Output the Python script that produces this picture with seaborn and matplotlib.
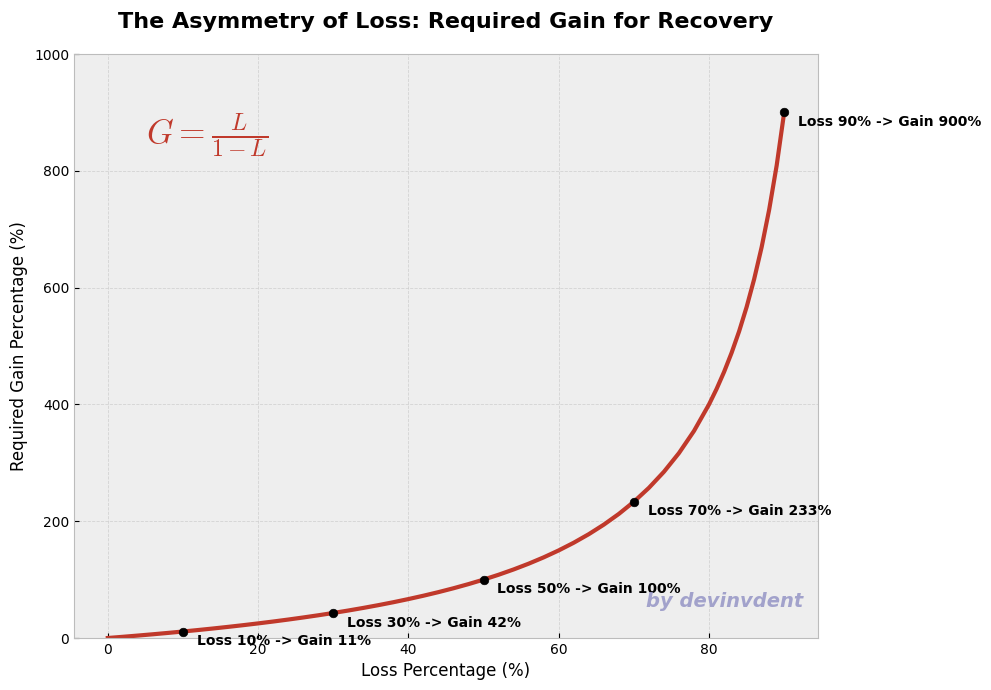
import matplotlib
matplotlib.use("Agg")
import matplotlib.pyplot as plt
import seaborn as sns
import pandas as pd

loss = [0, 2, 4, 6, 8, 10, 12, 14, 16, 18, 20, 22, 24, 26, 28, 30, 32, 34, 36, 38,
        40, 42, 44, 46, 48, 50, 52, 54, 56, 58, 60, 62, 64, 66, 68, 70, 72, 74, 76, 78,
        80, 81, 82, 83, 84, 85, 86, 87, 88, 89, 90]
gain = [0.00, 2.04, 4.17, 6.38, 8.70, 11.11, 13.64, 16.28, 19.05, 21.95, 25.00, 28.21,
        31.58, 35.14, 38.89, 42.86, 47.06, 51.52, 56.25, 61.29, 66.67, 72.41, 78.57,
        85.19, 92.31, 100.00, 108.33, 117.39, 127.27, 138.10, 150.00, 163.16, 177.78,
        194.12, 212.50, 233.33, 257.14, 284.62, 316.67, 354.55, 400.00, 426.32, 455.56,
        488.24, 525.00, 566.67, 614.29, 669.23, 733.33, 809.09, 900.00]

marker_loss = [10, 30, 50, 70, 90]
marker_gain = [11.11, 42.86, 100.00, 233.33, 900.00]
marker_labels = ["Loss 10% -> Gain 11%", "Loss 30% -> Gain 42%", "Loss 50% -> Gain 100%",
                 "Loss 70% -> Gain 233%", "Loss 90% -> Gain 900%"]

plt.style.use("bmh")
plt.rcParams["mathtext.fontset"] = "cm"

fig = plt.figure(figsize=(9.91, 6.9), dpi=100)
ax = fig.add_axes([74/991, 1-638/690, 744/991, 584/690])
ax.set_facecolor("#eeeeee")

df = pd.DataFrame({"loss": loss, "gain": gain})
sns.lineplot(data=df, x="loss", y="gain", ax=ax, color="#c0392b", linewidth=3)
mk = pd.DataFrame({"loss": marker_loss, "gain": marker_gain})
sns.scatterplot(data=mk, x="loss", y="gain", ax=ax, color="black", s=38, zorder=5, edgecolor="black")

for x, y, t in zip(marker_loss, marker_gain, marker_labels):
    ax.annotate(t, (x, y), xytext=(10, -7), textcoords="offset points",
                fontsize=10, fontweight="bold", va="center", ha="left", color="black")

ax.set_xlim(-4.5, 94.5)
ax.set_ylim(0, 1000)
ax.set_xticks([0, 20, 40, 60, 80])
ax.set_yticks([0, 200, 400, 600, 800, 1000])
ax.grid(True, linestyle="--", linewidth=0.6, color="#cccccc", alpha=0.8)
for s in ax.spines.values():
    s.set_color("#bcbcbc")
    s.set_visible(True)
ax.tick_params(labelsize=10, colors="black")
ax.set_xlabel("Loss Percentage (%)", fontsize=12)
ax.set_ylabel("Required Gain Percentage (%)", fontsize=12)
ax.set_title("The Asymmetry of Loss: Required Gain for Recovery", fontsize=16,
             fontweight="bold", pad=19)

ax.text(0.097, 0.86, r"$G = \frac{L}{1-L}$", transform=ax.transAxes, fontsize=24.5,
        color="#c0392b", va="center", ha="left")
ax.text(0.98, 0.062, "by devinvdent", transform=ax.transAxes, fontsize=14,
        fontweight="bold", fontstyle="italic", color="#9a9ac8", alpha=0.9,
        ha="right", va="center")

fig.savefig("out.png", dpi=100)
